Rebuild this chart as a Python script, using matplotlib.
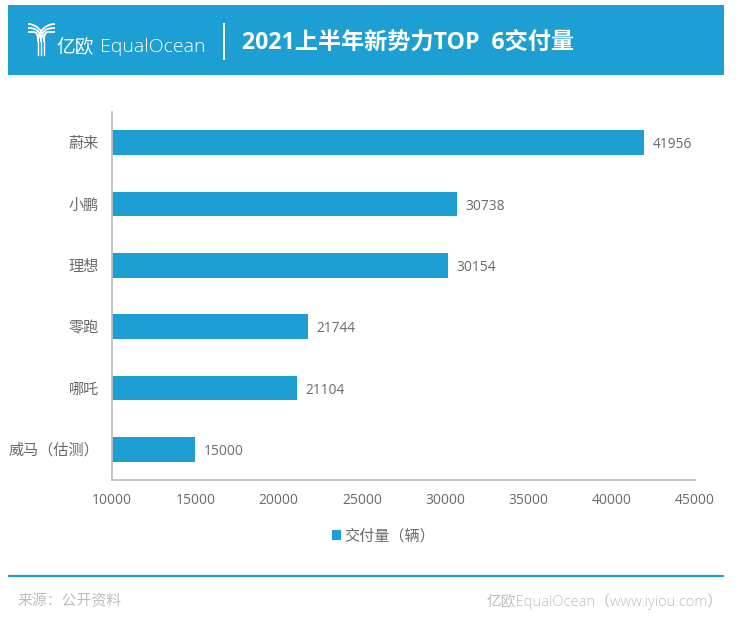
#!/usr/bin/env python3
"""2021 H1 new EV makers, top 6 deliveries (horizontal bar chart)."""

import matplotlib
matplotlib.use('Agg')
import matplotlib.pyplot as plt
from matplotlib.patches import Rectangle, PathPatch
from matplotlib.path import Path

plt.rcParams['font.family'] = ['Open Sans', 'Noto Sans CJK SC', 'DejaVu Sans']

# Data
brands = ['蔚来', '小鹏', '理想', '零跑', '哪吒', '威马（估测）']
deliveries = [41956, 30738, 30154, 21744, 21104, 15000]
x_ticks = [10000, 15000, 20000, 25000, 30000, 35000, 40000, 45000]

BLUE = '#1e9fd4'
TEXT = '#6a6a6a'
AXIS = '#bfbfbf'
W, H = 740, 632

fig = plt.figure(figsize=(W / 100, H / 100), dpi=100, facecolor='white')

# Overlay in pixel coordinates for banner and footer
bg = fig.add_axes([0, 0, 1, 1])
bg.set_xlim(0, W)
bg.set_ylim(H, 0)
bg.axis('off')

bg.add_patch(Rectangle((8, 5), 716, 70, facecolor=BLUE, edgecolor='none'))
bg.plot([224, 224], [24, 59], color='white', lw=1.4)

# Logo: stem lines curving out to the two arms
for i, off in enumerate((0, 3, 6)):
    bg.plot([38 + off, 38 + off], [55, 42], color='white', lw=1.0)
    left = Path([(38 + off, 42), (38 + off, 30), (35, 24 + (2 - i) * 4), (28, 24 + (2 - i) * 4)],
                [Path.MOVETO, Path.CURVE4, Path.CURVE4, Path.CURVE4])
    right = Path([(38 + off, 42), (38 + off, 30), (47, 24 + i * 4), (55, 24 + i * 4)],
                 [Path.MOVETO, Path.CURVE4, Path.CURVE4, Path.CURVE4])
    bg.add_patch(PathPatch(left, fill=False, edgecolor='white', lw=1.3))
    bg.add_patch(PathPatch(right, fill=False, edgecolor='white', lw=1.3))

bg.text(56, 46.5, '亿欧', color='white', fontsize=13.5, va='center', ha='left',
        family=['Noto Sans CJK SC'], fontweight='light')
bg.text(100, 47.5, 'EqualOcean', color='white', fontsize=14, va='center', ha='left',
        family=['Open Sans', 'DejaVu Sans'], fontweight='light')
bg.text(242, 42.5, '2021上半年新势力TOP  6交付量', color='white', fontsize=16.7,
        va='center', ha='left', fontweight='bold',
        family=['Open Sans', 'Noto Sans CJK SC'])

# Footer
bg.plot([8, 724], [576, 576], color=BLUE, lw=1.6, solid_capstyle='butt')
bg.text(17, 601, '来源：公开资料', color='#bdbdbd', fontsize=10.7, va='center', ha='left',
        family=['Noto Sans CJK SC'], fontweight='light')
bg.text(487, 602, '亿欧EqualOcean（www.iyiou.com）', color='#bdbdbd', fontsize=10.6,
        va='center', ha='left', family=['Open Sans', 'Noto Sans CJK SC'], fontweight='light')

# Chart
ax = fig.add_axes([112 / W, 1 - 480 / H, (695 - 112) / W, (480 - 112) / H])
ax.patch.set_alpha(0)
bars = ax.barh(brands, deliveries, height=0.4, color=BLUE, label='交付量（辆）')
ax.set_xlim(x_ticks[0], x_ticks[-1])
ax.set_ylim(5.5, -0.5)
ax.set_xticks(x_ticks)

for side in ('top', 'right'):
    ax.spines[side].set_visible(False)
for side in ('left', 'bottom'):
    ax.spines[side].set_color(AXIS)
    ax.spines[side].set_linewidth(1.3)

ax.tick_params(axis='both', length=0, labelcolor=TEXT)
ax.tick_params(axis='x', labelsize=10, pad=9.5)
ax.tick_params(axis='y', labelsize=10.9, pad=9.5)

value_labels = ax.bar_label(bars, labels=[str(v) for v in deliveries], padding=6,
                            fontsize=9.9, color=TEXT)
for t in value_labels:
    t.xyann = (t.xyann[0], -1.5)  # nudge down a little

leg = ax.legend(loc='center', bbox_to_anchor=(0.466, -0.155), frameon=False, fontsize=10.9,
                handlelength=0.6, handleheight=0.6, handletextpad=0.25, labelcolor=TEXT)

fig.savefig('out.png', dpi=100)
